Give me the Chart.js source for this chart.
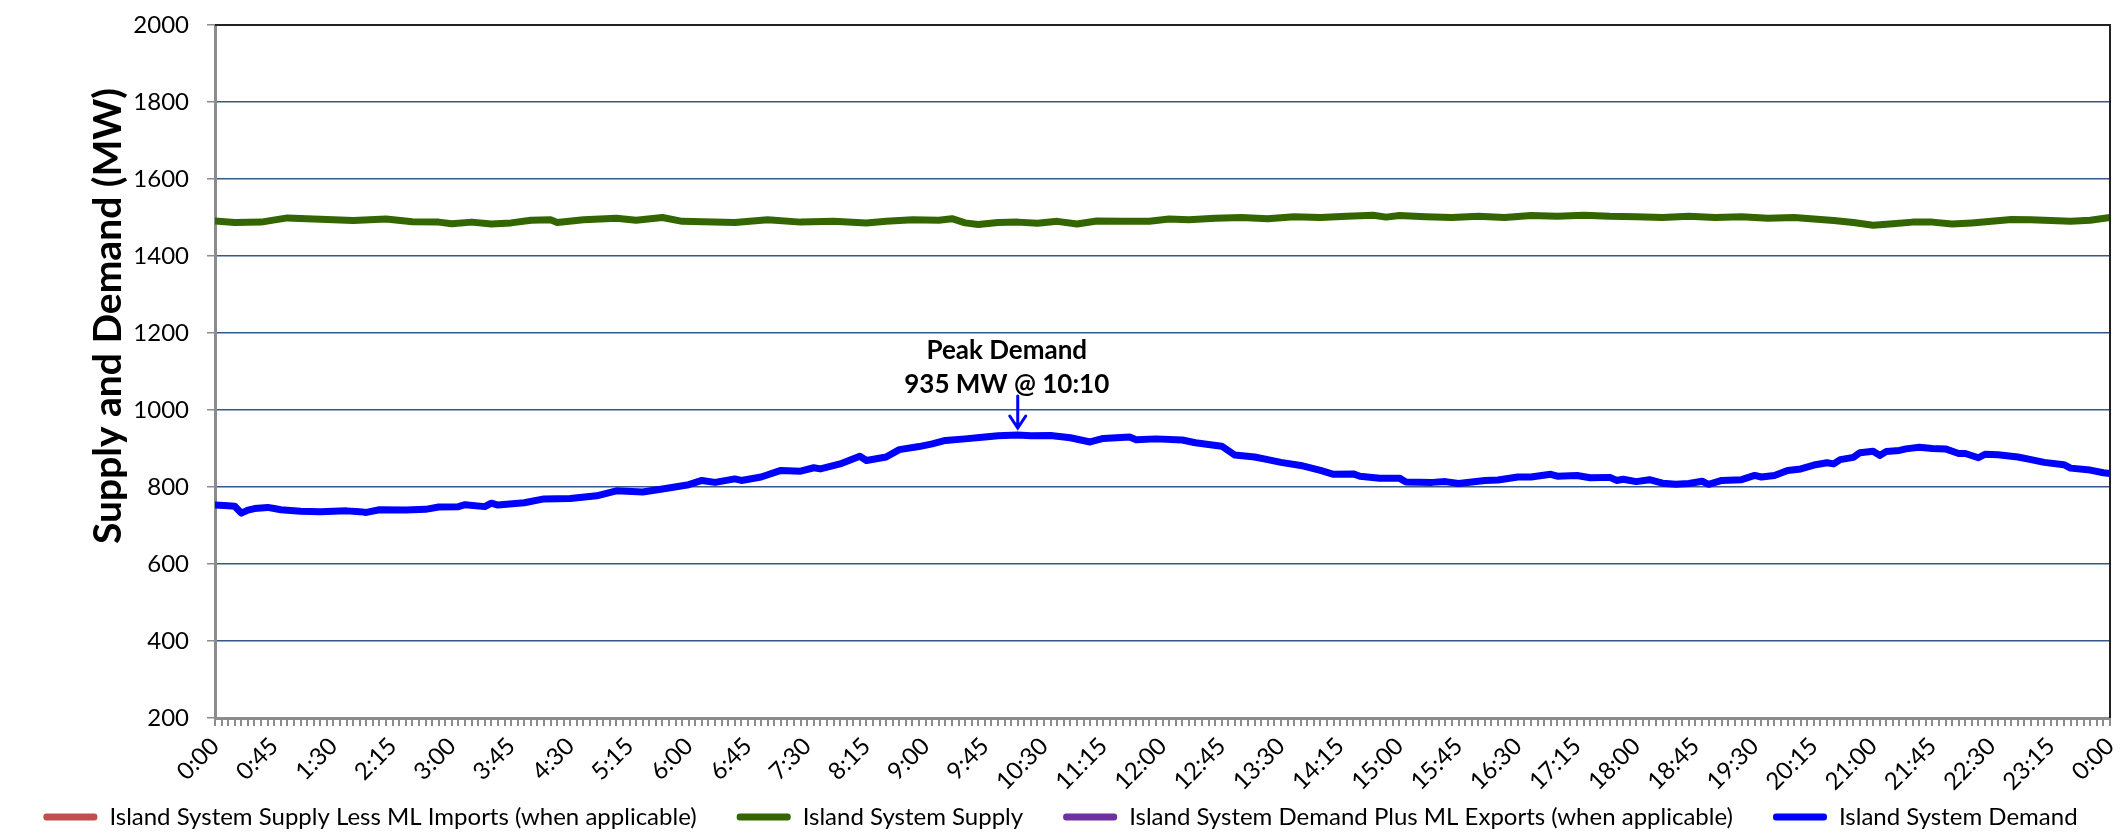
<!DOCTYPE html>
<html>
<head>
<meta charset="utf-8">
<script src="https://cdn.jsdelivr.net/npm/chart.js@4.4.1/dist/chart.umd.min.js"></script>
<style>
    html, body { margin: 0; padding: 0; background: #fff; }
    #wrap { width: 2121px; height: 834px; }
</style>
</head>
<body>
<div id="wrap"><canvas id="chart" width="2121" height="834"></canvas></div>
<script>
// Times are minutes after midnight (5 min data)
const demandTimes = [0, 10, 15, 20, 25, 30, 40, 45, 50, 65, 80, 100, 110, 115, 125, 145, 160, 170, 185, 190,
    205, 210, 215, 235, 250, 270, 290, 305, 325, 340, 360, 370, 380, 395, 400, 415, 430, 445, 455, 460,
    475, 490, 495, 510, 520, 535, 545, 555, 570, 585, 595, 610, 620, 635, 650, 665, 675, 695, 700, 715,
    735, 745, 765, 775, 790, 800, 810, 825, 840, 850, 865, 870, 885, 900, 905, 925, 935, 945, 965, 975,
    990, 1000, 1015, 1020, 1035, 1045, 1060, 1065, 1070, 1080, 1090, 1100, 1110, 1120, 1130, 1135, 1145, 1160, 1170, 1175,
    1185, 1195, 1205, 1215, 1225, 1230, 1235, 1245, 1250, 1260, 1265, 1270, 1280, 1285, 1295, 1305, 1315, 1325, 1330, 1340,
    1345, 1355, 1370, 1380, 1390, 1405, 1410, 1425, 1435, 1440];
const demandValues = [753, 751, 750, 732, 740, 744, 747, 744, 741, 737, 736, 738, 736, 734, 741, 740, 742, 748, 749, 754,
    749, 758, 753, 759, 769, 770, 777, 790, 787, 795, 806, 817, 812, 821, 817, 826, 843, 841, 850, 847,
    860, 880, 869, 878, 897, 905, 912, 921, 925, 930, 933, 935, 933, 934, 928, 917, 926, 930, 923, 925,
    922, 915, 906, 883, 878, 871, 864, 856, 843, 833, 834, 828, 823, 823, 813, 812, 814, 809, 817, 818,
    826, 826, 833, 828, 830, 824, 825, 817, 820, 814, 819, 810, 807, 809, 815, 807, 817, 819, 830, 826,
    830, 843, 847, 857, 863, 860, 871, 877, 889, 893, 882, 892, 895, 899, 903, 900, 899, 887, 887, 876,
    885, 884, 878, 871, 864, 858, 849, 844, 837, 835];

const supplyTimes = [0, 15, 35, 55, 70, 105, 130, 150, 170, 180, 195, 210, 225, 240, 255, 260, 280, 305, 320, 340,
    355, 395, 420, 445, 470, 495, 510, 530, 550, 560, 570, 580, 595, 610, 625, 640, 655, 670, 690, 710,
    725, 740, 760, 780, 800, 820, 840, 860, 880, 890, 900, 920, 940, 960, 980, 1000, 1020, 1040, 1060, 1080,
    1100, 1120, 1140, 1160, 1180, 1200, 1215, 1230, 1245, 1260, 1275, 1290, 1305, 1320, 1335, 1350, 1365, 1380, 1395, 1410,
    1425, 1440];
const supplyValues = [1491, 1487, 1488, 1499, 1497, 1492, 1496, 1489, 1488, 1484, 1488, 1483, 1486, 1493, 1494, 1487, 1494, 1498, 1493, 1500,
    1490, 1487, 1494, 1488, 1490, 1486, 1490, 1494, 1493, 1497, 1486, 1482, 1487, 1488, 1485, 1490, 1483, 1491, 1490, 1490,
    1496, 1494, 1498, 1500, 1497, 1502, 1500, 1503, 1506, 1501, 1505, 1502, 1500, 1503, 1500, 1505, 1503, 1506, 1503, 1502,
    1500, 1503, 1500, 1502, 1498, 1500, 1496, 1492, 1487, 1480, 1484, 1488, 1488, 1483, 1486, 1490, 1495, 1494, 1492, 1490,
    1493, 1500];

const seriesNames = [
    'Island System Supply Less ML Imports (when applicable)',
    'Island System Supply',
    'Island System Demand Plus ML Exports (when applicable)',
    'Island System Demand'
];
const seriesColors = ['#C0504D', '#336600', '#7030A0', '#0000FF'];

const yMin = 200, yMax = 2000, yStep = 200;
const xLabelStep = 45;     // minutes between time labels
const xTickStep = 5;       // minor tick every data interval
const peakTime = 610, peakValue = 935;
const peakText = ['Peak Demand', '935 MW @ 10:10'];

const FONT = 'Lato, "Noto Sans", sans-serif';

function fmtTime(m) {
    const h = Math.floor(m / 60) % 24;
    return h + ':' + String(m % 60).padStart(2, '0');
}

function toPoints(times, values) {
    return times.map((t, i) => ({ x: t, y: values[i] }));
}

// frame, y title and peak callout
const extras = {
    id: 'extras',
    afterDraw(chart) {
        const { ctx, chartArea: a, scales: { x, y } } = chart;
        ctx.save();
        ctx.strokeStyle = '#222';
        ctx.lineWidth = 2;
        ctx.beginPath();
        ctx.moveTo(a.left, a.top);
        ctx.lineTo(a.right, a.top);
        ctx.lineTo(a.right, a.bottom);
        ctx.stroke();

        ctx.save();
        ctx.translate(a.left - 107, a.top + 291);
        ctx.rotate(-Math.PI / 2);
        ctx.font = 'bold 39px ' + FONT;
        ctx.fillStyle = '#000';
        ctx.textAlign = 'center';
        ctx.textBaseline = 'middle';
        ctx.fillText('Supply and Demand (MW)', 0, 0);
        ctx.restore();

        const px = x.getPixelForValue(peakTime);
        const py = y.getPixelForValue(peakValue);
        ctx.font = 'bold 26px ' + FONT;
        ctx.fillStyle = '#000';
        ctx.textAlign = 'center';
        ctx.textBaseline = 'middle';
        ctx.fillText(peakText[0], px - 11, py - 84);
        ctx.fillText(peakText[1], px - 11, py - 50);

        ctx.strokeStyle = '#0000FF';
        ctx.lineWidth = 3;
        ctx.lineCap = 'round';
        ctx.beginPath();
        ctx.moveTo(px, py - 39);
        ctx.lineTo(px, py - 7);
        ctx.moveTo(px - 8, py - 19);
        ctx.lineTo(px, py - 7);
        ctx.lineTo(px + 8, py - 19);
        ctx.stroke();
        ctx.restore();
    }
};

const datasets = [
    { data: [] },
    { data: toPoints(supplyTimes, supplyValues) },
    { data: [] },
    { data: toPoints(demandTimes, demandValues) }
].map((d, i) => ({
    ...d,
    label: seriesNames[i],
    borderColor: seriesColors[i],
    backgroundColor: seriesColors[i],
    borderWidth: 7,
    borderJoinStyle: 'round',
    borderCapStyle: 'round',
    pointRadius: 0,
    tension: 0
}));

new Chart(document.getElementById('chart'), {
    type: 'line',
    data: { datasets },
    options: {
        responsive: false,
        animation: false,
        layout: { padding: { left: 0, right: 0, top: 25, bottom: -5 } },
        plugins: {
            tooltip: { enabled: false },
            legend: {
                position: 'bottom',
                labels: {
                    color: '#000',
                    font: { family: FONT, size: 24 },
                    boxWidth: 54,
                    boxHeight: 7,
                    padding: 40,
                    useBorderRadius: true,
                    borderRadius: 3,
                    generateLabels: chart => chart.data.datasets.map((ds, i) => ({
                        text: ds.label,
                        fillStyle: ds.borderColor,
                        strokeStyle: ds.borderColor,
                        lineWidth: 0,
                        borderRadius: 3,
                        hidden: false,
                        datasetIndex: i
                    }))
                }
            }
        },
        scales: {
            x: {
                type: 'linear',
                min: 0,
                max: 1440,
                // keep the axis box short so the legend sits right under it,
                // and let the rotated labels run past it instead of being clipped
                afterFit: s => {
                    s.height = 47;
                    s.paddingRight = 11;
                    s._computeLabelArea = () => undefined;
                },
                ticks: {
                    stepSize: xTickStep,
                    autoSkip: false,
                    minRotation: 45,
                    maxRotation: 45,
                    padding: 6,
                    color: '#000',
                    font: { family: FONT, size: 24 },
                    callback: v => (v % xLabelStep === 0 ? fmtTime(v) : '')
                },
                grid: {
                    drawOnChartArea: false,
                    drawTicks: true,
                    tickLength: 8,
                    color: '#8C8C8C',
                    tickColor: '#8C8C8C',
                    lineWidth: 2
                },
                border: { color: '#8C8C8C', width: 3 }
            },
            y: {
                min: yMin,
                max: yMax,
                afterFit: s => {
                    s.width = 215;
                    s.paddingTop = 0;
                    s.paddingBottom = 0;
                },
                ticks: {
                    stepSize: yStep,
                    padding: 18,
                    color: '#000',
                    font: { family: FONT, size: 24 },
                    callback: v => String(v)
                },
                grid: {
                    color: ctx => (ctx.tick && ctx.tick.value === yMax ? '#222' : '#34588A'),
                    lineWidth: 1.5,
                    tickLength: 8,
                    tickColor: '#8C8C8C'
                },
                border: { color: '#8C8C8C', width: 3 }
            }
        }
    },
    plugins: [extras]
});
</script>
</body>
</html>
